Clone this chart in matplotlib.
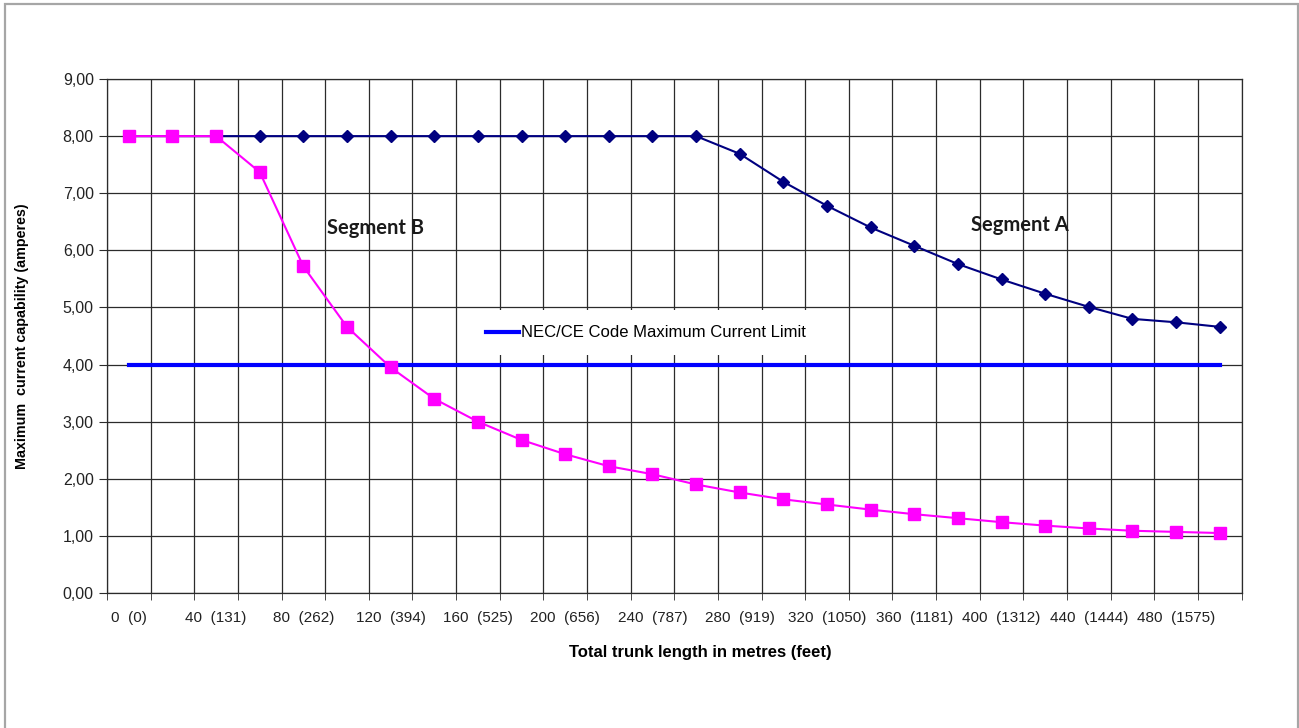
import numpy as np
import matplotlib
matplotlib.use('Agg')
import matplotlib.pyplot as plt
from matplotlib.ticker import FuncFormatter, FixedLocator
from matplotlib.patches import Rectangle

# trunk length categories in metres, feet shown in brackets
metres = list(range(0, 520, 20))
feet = [0, 66, 131, 197, 262, 328, 394, 459, 525, 591, 656, 722, 787, 853,
        919, 984, 1050, 1116, 1181, 1247, 1312, 1378, 1444, 1509, 1575, 1640]

segment_a = [8.00, 8.00, 8.00, 8.00, 8.00, 8.00, 8.00, 8.00, 8.00, 8.00, 8.00, 8.00, 8.00,
             8.00, 7.69, 7.20, 6.78, 6.40, 6.08, 5.76, 5.49, 5.24, 5.01, 4.80, 4.74, 4.66]
segment_b = [8.00, 8.00, 8.00, 7.37, 5.72, 4.66, 3.95, 3.40, 3.00, 2.68, 2.43, 2.22, 2.08,
             1.90, 1.76, 1.64, 1.55, 1.46, 1.38, 1.31, 1.24, 1.18, 1.13, 1.09, 1.07, 1.05]
code_limit = [4.0] * len(metres)

x = np.arange(len(metres))

fig = plt.figure(figsize=(12.99, 7.28), dpi=100)
ax = fig.add_axes([107/1299, 1 - 593/728, (1241.5 - 107)/1299, (593 - 79)/728])

# gray border around the whole chart area
fig.patches.append(Rectangle((5/1299, -0.01), (1297.5 - 5)/1299, 1 - 4/728 + 0.01,
                             transform=fig.transFigure, fill=False,
                             edgecolor='#a6a6a6', linewidth=1.6))

# grid
for i in range(len(metres) + 1):
    ax.axvline(i - 0.5, color='#2b2b2b', linewidth=0.9, zorder=1)
for v in range(0, 10):
    ax.axhline(v, color='#2b2b2b', linewidth=0.9, zorder=1)

ax.plot(x, code_limit, color='#0000ff', linewidth=3, zorder=2,
        label='NEC/CE Code Maximum Current Limit')
ax.plot(x, segment_a, color='#000080', linewidth=1.5, marker='D', markersize=6,
        zorder=3)
ax.plot(x, segment_b, color='#ff00ff', linewidth=1.5, marker='s', markersize=8,
        zorder=4)

ax.set_xlim(-0.5, len(metres) - 0.5)
ax.set_ylim(0, 9)

ax.xaxis.set_major_locator(FixedLocator(x[::2]))
ax.set_xticklabels([f'{m}  ({f})' for m, f in zip(metres[::2], feet[::2])],
                   fontsize=11, color='#222222', fontname='Liberation Sans')
ax.xaxis.set_minor_locator(FixedLocator(np.arange(len(metres) + 1) - 0.5))
ax.tick_params(axis='x', which='major', length=0, pad=13)
ax.tick_params(axis='x', which='minor', length=5, color='#2b2b2b')
ax.set_yticks(range(0, 10))
ax.yaxis.set_major_formatter(FuncFormatter(lambda v, p: f'{v:.2f}'.replace('.', ',')))
ax.tick_params(axis='y', length=6, color='#2b2b2b', labelsize=11.5, labelcolor='#222222')
for lab in ax.get_yticklabels():
    lab.set_fontname('Liberation Sans')

for s in ax.spines.values():
    s.set_color('#2b2b2b')
    s.set_linewidth(0.9)

fig.text(700/1299, 1 - 653/728, 'Total trunk length in metres (feet)', ha='center',
         va='center', fontsize=12, fontweight='bold', fontname='Liberation Sans')
fig.text(22/1299, 1 - 336/728, 'Maximum  current capability (amperes)', ha='center',
         va='center', rotation=90, fontsize=10.3, fontweight='bold', fontname='Liberation Sans')

ax.text(5.65, 6.39, 'Segment B', ha='center', va='center', fontsize=14.5,
        fontweight='bold', fontname='Lato', color='#1a1a1a', zorder=5)
ax.text(20.41, 6.44, 'Segment A', ha='center', va='center', fontsize=14.5,
        fontweight='bold', fontname='Lato', color='#1a1a1a', zorder=5)

leg = ax.legend(loc='center', bbox_to_anchor=(646/1299, 1 - 333/728),
                bbox_transform=fig.transFigure, frameon=True, fancybox=False,
                facecolor='white', edgecolor='none', framealpha=1, borderpad=0.9,
                handlelength=2.0, handletextpad=0.1,
                prop={'family': 'Liberation Sans', 'size': 12})
leg.set_zorder(6)

fig.savefig('out.png', dpi=100, facecolor='white')
